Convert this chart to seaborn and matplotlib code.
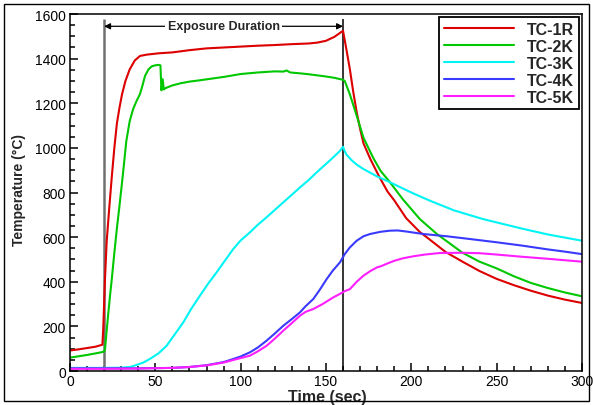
import pandas as pd
import matplotlib
matplotlib.use("Agg")
import matplotlib.pyplot as plt
from matplotlib.patches import Rectangle
from matplotlib.ticker import MultipleLocator
import seaborn as sns

# Thermocouple readings
t_1r = [0, 5, 10, 15, 19, 19.5, 20.5, 21.5, 23, 24.5, 26, 27.5, 29, 30.5, 32.5, 35, 38, 41, 45, 52,
        60, 70, 80, 90, 100, 110, 120, 130, 140, 145, 150, 155, 160,
        162, 164, 166, 168, 170, 172, 176, 181, 186, 190, 197, 205, 210, 220, 230, 240, 250,
        260, 270, 280, 290, 300]
temp_1r = [92, 97, 103, 109, 118, 190, 410, 580, 730, 870, 1000, 1110, 1180, 1240, 1300, 1352, 1392, 1412, 1418, 1424,
           1428, 1438, 1446, 1450, 1454, 1458, 1461, 1465, 1468, 1472, 1480, 1498, 1525,
           1440, 1353, 1250, 1160, 1085, 1020, 950, 874, 805, 765, 685, 623, 594, 534, 490, 448, 413,
           385, 360, 338, 320, 305]

t_2k = [0, 5, 10, 15, 19, 20, 20.5, 21.5, 22.5, 23.5, 24.5, 26, 27.5, 29, 31, 33, 35, 37, 39, 41, 42.5, 44, 46, 48,
        50, 52, 53, 53.6, 54.3, 55, 56, 60, 65, 70, 77, 90, 100, 110, 120, 125, 127, 129, 135, 140, 150, 155, 160,
        161, 164, 168, 172, 177.7, 182, 187.5, 195, 205, 215, 230, 240, 250, 260, 270, 280, 290, 300]
temp_2k = [60, 66, 72, 79, 85, 88, 95, 180, 263, 340, 412, 530, 640, 740, 880, 1030, 1120, 1174, 1210, 1241, 1280, 1323, 1352, 1366,
           1370, 1372, 1370, 1258, 1308, 1262, 1268, 1280, 1290, 1297, 1304, 1318, 1331, 1338, 1343, 1342, 1347, 1338, 1334, 1330, 1320, 1314, 1305,
           1300, 1240, 1144, 1045, 955, 897, 846, 770, 681, 614, 530, 490, 460, 425, 395, 372, 352, 335]

t_3k = [0, 10, 20, 30, 35, 37, 40, 43, 47, 52, 56.6, 61, 66.4, 71, 76.2, 81, 85.9, 91, 95.7, 100, 105.5, 110,
        115.2, 120, 125, 130, 134.8, 140, 144.5, 150, 154.3, 158, 160,
        161, 162, 165, 168, 172, 180, 187.5, 200, 211, 225, 242, 250, 265, 280, 290, 300]
temp_3k = [14, 14, 14, 15, 18, 22, 30, 38, 55, 80, 113, 160, 218, 278, 338, 392, 442, 497, 547, 585, 622, 655,
           689, 722, 756, 790, 823, 857, 890, 928, 958, 985, 1005,
           985, 970, 945, 925, 905, 872, 846, 800, 763, 720, 681, 666, 638, 612, 598, 584]

t_4k = [0, 20, 40, 60, 70, 80, 90, 95.7, 100, 105.5, 110, 115.2, 120, 125, 130, 134.8, 138, 142.6, 146, 150.4,
        154, 158.2, 161, 164, 168, 172, 175.8, 182, 187.5, 192, 197.3, 207, 220.7, 235, 250, 265, 280, 290, 300]
temp_4k = [12, 12, 12, 14, 18, 26, 40, 54, 65, 84, 105, 136, 168, 203, 233, 263, 290, 323, 360, 412,
           450, 487, 524, 554, 584, 604, 614, 624, 629, 630, 625, 614, 604, 591, 577, 562, 545, 535, 524]

t_5k = [0, 20, 40, 60, 70, 80, 90, 100, 105.5, 110, 115.2, 120, 125, 130, 134.8, 138, 142.6, 148, 154.3, 158,
        161, 164, 168, 171.9, 176, 180, 182, 186, 190, 195, 201, 208, 216.8, 230, 240, 250, 265, 280, 300]
temp_5k = [10, 10, 11, 14, 18, 25, 38, 58, 69, 88, 113, 145, 181, 215, 248, 265, 278, 300, 330, 345,
           358, 367, 400, 427, 448, 465, 469, 482, 494, 505, 514, 522, 529, 530, 528, 522, 512, 503, 490]

series = ["TC-1R", "TC-2K", "TC-3K", "TC-4K", "TC-5K"]
colors = ["#dc0000", "#00c800", "#00f4f4", "#3a3aff", "#ff1eff"]

frames = []
for name, t, v in zip(series, [t_1r, t_2k, t_3k, t_4k, t_5k],
                      [temp_1r, temp_2k, temp_3k, temp_4k, temp_5k]):
    frames.append(pd.DataFrame({"Time": t, "Temp": v, "Series": name}))
df = pd.concat(frames, ignore_index=True)

sns.set_style("ticks")
plt.rcParams["font.family"] = ["Liberation Sans", "DejaVu Sans"]

fig = plt.figure(figsize=(5.93, 4.06), dpi=100)
ax = fig.add_axes([0.118, 0.0837, 0.8634, 0.8793])

sns.lineplot(data=df, x="Time", y="Temp", hue="Series", hue_order=series,
             palette=dict(zip(series, colors)), estimator=None, linewidth=1.5, ax=ax)

ax.set_xlim(0, 300)
ax.set_ylim(0, 1600)
ax.xaxis.set_major_locator(MultipleLocator(50))
ax.xaxis.set_minor_locator(MultipleLocator(10))
ax.yaxis.set_major_locator(MultipleLocator(200))
ax.yaxis.set_minor_locator(MultipleLocator(50))
ax.tick_params(which="both", direction="in", top=False, right=False, width=1.1,
               colors="black", labelsize=10)
ax.tick_params(which="major", length=6)
ax.tick_params(axis="x", which="major", pad=2)
ax.tick_params(axis="y", which="major", pad=3)
ax.tick_params(which="minor", length=3.5)
for s in ax.spines.values():
    s.set_visible(True)
    s.set_linewidth(1.1)
    s.set_color("black")

ax.set_xlabel("Time (sec)", fontsize=11.5, fontweight="bold")
ax.set_ylabel("Temperature (°C)", fontsize=10, fontweight="bold")
ax.xaxis.set_label_coords(0.503, -0.05)
ax.yaxis.set_label_coords(-0.085, 0.51)

# exposure window markers
ax.vlines(20, 0, 1578, color="#707070", linewidth=1.8, zorder=1)
ax.vlines(160, 0, 1578, color="black", linewidth=1.1, zorder=1)
ax.annotate("", xy=(20, 1545), xytext=(160, 1545),
            arrowprops=dict(arrowstyle="<|-|>", color="black", lw=0.9,
                            mutation_scale=9, shrinkA=0, shrinkB=0))
ax.text(90, 1545, "Exposure Duration", ha="center", va="center", fontsize=9,
        fontweight="bold", bbox=dict(facecolor="white", edgecolor="none", pad=2))

handles, labels = ax.get_legend_handles_labels()
leg = ax.legend(handles, labels, loc="upper right", fontsize=11.5, frameon=True,
                fancybox=False, framealpha=1, edgecolor="black", handlelength=4.4,
                handletextpad=0.8, labelspacing=0.12, borderpad=0.3, borderaxespad=0.2)
leg.get_frame().set_linewidth(1.3)
for txt in leg.get_texts():
    txt.set_fontweight("bold")
for line in leg.get_lines():
    line.set_linewidth(1.5)

# frame around the whole figure
fig.patches.append(Rectangle((0.0067, 0.0099), 0.9865, 0.978, transform=fig.transFigure,
                             fill=False, edgecolor="black", linewidth=1.0))

fig.savefig("out.png", dpi=100)
